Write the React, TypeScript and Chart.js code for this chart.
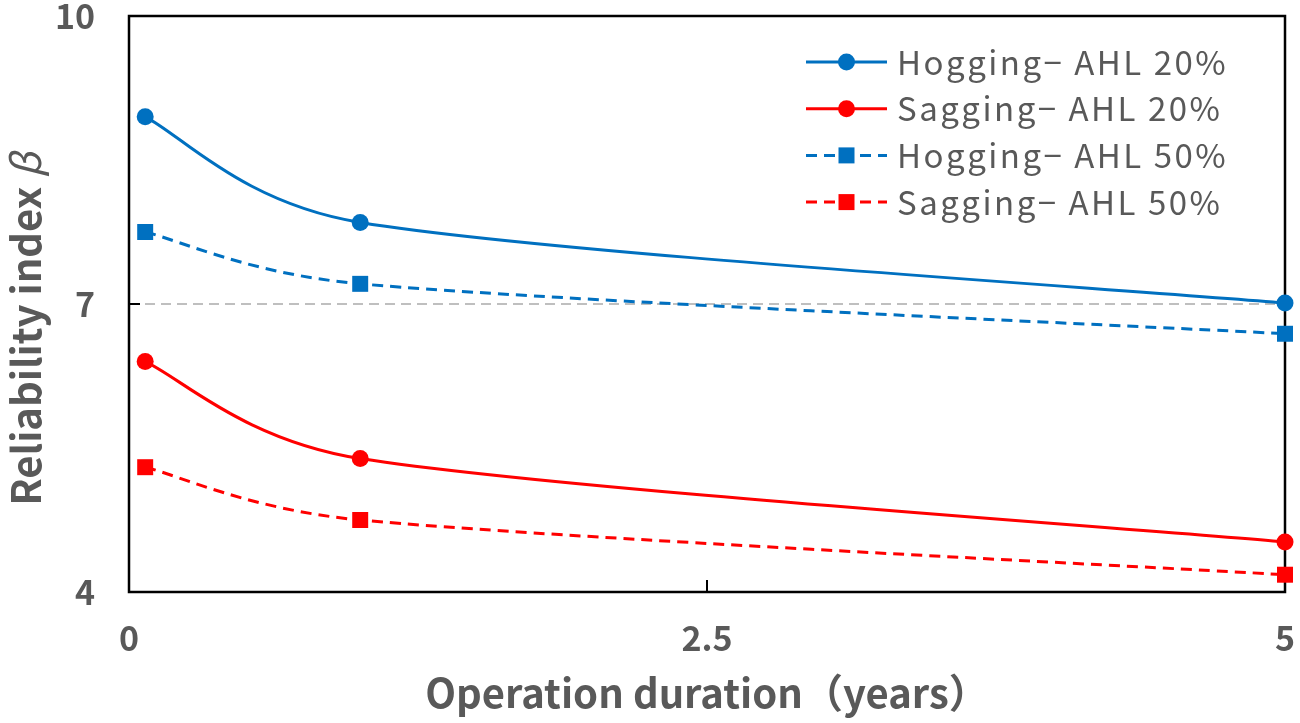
import { useEffect, useRef } from "react";
import { Chart, registerables, Plugin } from "chart.js";

Chart.register(...registerables);

// operation duration in years
const years = [0.07, 1, 5];

// reliability index beta
const hogging20 = [8.95, 7.85, 7.01];
const sagging20 = [6.4, 5.39, 4.52];
const hogging50 = [7.75, 7.21, 6.69];
const sagging50 = [5.3, 4.75, 4.18];

const seriesLabels = [
  "Hogging\u2212 AHL 20%",
  "Sagging\u2212 AHL 20%",
  "Hogging\u2212 AHL 50%",
  "Sagging\u2212 AHL 50%",
];

const xTitle = "Operation duration\uFF08years\uFF09";
const yTitle = "Reliability index ";
const yTitleSymbol = "\u03B2";

const BLUE = "#0070C0";
const RED = "#FF0000";
const GREY = "#595959";
const FONT = "'Noto Sans CJK JP', 'Noto Sans', sans-serif";

// Excel-like smoothing: control points at 1/6 of the neighbour chord,
// capped at half of the segment they belong to
const excelSmooth: Plugin<"line"> = {
  id: "excelSmooth",
  beforeDatasetDraw(_chart, args) {
    const meta: any = args.meta;
    const pts: any[] = meta.data;
    const n = pts.length;
    pts.forEach((p, i) => {
      const prev = pts[Math.max(i - 1, 0)];
      const next = pts[Math.min(i + 1, n - 1)];
      const dx = (next.x - prev.x) / 6;
      const dy = (next.y - prev.y) / 6;
      const len = Math.hypot(dx, dy) || 1;
      const dPrev = Math.hypot(p.x - prev.x, p.y - prev.y) / 2;
      const dNext = Math.hypot(next.x - p.x, next.y - p.y) / 2;
      const kIn = Math.min(1, dPrev / len);
      const kOut = Math.min(1, dNext / len);
      p.cp1x = p.x - dx * kIn;
      p.cp1y = p.y - dy * kIn;
      p.cp2x = p.x + dx * kOut;
      p.cp2y = p.y + dy * kOut;
    });
    meta.dataset._pointsUpdated = true;
  },
};

// black frame round the plot and inward tick marks
const frame: Plugin<"line"> = {
  id: "frame",
  beforeDatasetsDraw(chart) {
    const { ctx, chartArea: a, scales } = chart;
    ctx.save();
    ctx.strokeStyle = "#000";
    ctx.lineWidth = 2.5;
    ctx.strokeRect(a.left, a.top, a.right - a.left, a.bottom - a.top);
    ctx.lineWidth = 2;
    ctx.beginPath();
    scales.x.ticks.forEach((t) => {
      const px = scales.x.getPixelForValue(t.value);
      ctx.moveTo(px, a.bottom);
      ctx.lineTo(px, a.bottom - 12);
    });
    scales.y.ticks.forEach((t) => {
      const py = scales.y.getPixelForValue(t.value);
      ctx.moveTo(a.left, py);
      ctx.lineTo(a.left + 11, py);
    });
    ctx.stroke();
    ctx.restore();
  },
};

// y title with italic beta, and the legend inside the plot
const extras: Plugin<"line"> = {
  id: "extras",
  afterDraw(chart) {
    const { ctx, chartArea: a } = chart;
    ctx.save();

    // y axis title
    ctx.translate(a.left - 103, (a.top + a.bottom) / 2 + 25);
    ctx.rotate(-Math.PI / 2);
    ctx.fillStyle = GREY;
    ctx.textBaseline = "middle";
    ctx.textAlign = "left";
    ctx.font = `bold 40px ${FONT}`;
    const w1 = ctx.measureText(yTitle).width;
    ctx.font = `italic 40px ${FONT}`;
    const w2 = ctx.measureText(yTitleSymbol).width;
    const x0 = -(w1 + w2) / 2;
    ctx.font = `bold 40px ${FONT}`;
    ctx.fillText(yTitle, x0, 0);
    ctx.font = `italic 40px ${FONT}`;
    ctx.fillText(yTitleSymbol, x0 + w1, 0);
    ctx.restore();

    // legend
    ctx.save();
    const lineStart = a.right - 479;
    const lineEnd = a.right - 398;
    const mid = (lineStart + lineEnd) / 2;
    const textX = a.right - 388;
    chart.data.datasets.forEach((ds: any, i) => {
      const y = a.top + 46 + i * 46.7;
      ctx.strokeStyle = ds.borderColor;
      ctx.fillStyle = ds.borderColor;
      ctx.lineWidth = ds.borderWidth;
      ctx.setLineDash(ds.borderDash || []);
      ctx.beginPath();
      ctx.moveTo(lineStart, y);
      ctx.lineTo(lineEnd, y);
      ctx.stroke();
      ctx.setLineDash([]);
      if (ds.pointStyle === "rect") {
        ctx.fillRect(mid - 8, y - 8, 16, 16);
      } else {
        ctx.beginPath();
        ctx.arc(mid, y, 8.5, 0, Math.PI * 2);
        ctx.fill();
      }
      ctx.fillStyle = GREY;
      ctx.font = `33px ${FONT}`;
      (ctx as any).letterSpacing = "2.5px";
      ctx.textBaseline = "middle";
      ctx.textAlign = "left";
      ctx.fillText(ds.label, textX, y);
      (ctx as any).letterSpacing = "0px";
    });
    ctx.restore();
  },
};

function toPoints(values: number[]) {
  return values.map((v, i) => ({ x: years[i], y: v }));
}

function noOverhang(scale: any) {
  scale.paddingTop = 0;
  scale.paddingBottom = 0;
  scale.paddingLeft = 0;
  scale.paddingRight = 0;
}

function ReliabilityChart() {
  const canvasRef = useRef<HTMLCanvasElement>(null);

  useEffect(() => {
    if (!canvasRef.current) return;

    const series = [hogging20, sagging20, hogging50, sagging50];
    const colors = [BLUE, RED, BLUE, RED];

    const chart = new Chart(canvasRef.current, {
      type: "line",
      data: {
        datasets: series.map((values, i) => {
          const dashed = i >= 2;
          return {
            label: seriesLabels[i],
            data: toPoints(values),
            borderColor: colors[i],
            backgroundColor: colors[i],
            borderWidth: 3,
            borderDash: dashed ? [11, 7] : [],
            pointStyle: dashed ? "rect" : "circle",
            pointRadius: dashed ? 11.3 : 8.5,
            pointBorderWidth: 0,
            tension: 0.3,
            clip: false as any,
          };
        }),
      },
      options: {
        animation: false,
        responsive: true,
        maintainAspectRatio: false,
        layout: { padding: { top: 16, right: 15, left: 0, bottom: 0 } },
        plugins: {
          legend: { display: false },
          tooltip: { enabled: false },
        },
        scales: {
          x: {
            type: "linear",
            min: 0,
            max: 5,
            ticks: {
              stepSize: 2.5,
              color: GREY,
              font: { family: FONT, size: 34, weight: "bold" },
              padding: 26,
              maxRotation: 0,
              callback: (v) => String(v),
            },
            grid: { display: false, drawTicks: false },
            border: { display: false },
            title: {
              display: true,
              text: xTitle,
              color: GREY,
              font: { family: FONT, size: 40, weight: "bold" },
              padding: { top: 0, bottom: 6 },
            },
            afterFit: (scale) => {
              scale.height = 131;
              noOverhang(scale);
            },
          },
          y: {
            type: "linear",
            min: 4,
            max: 10,
            ticks: {
              stepSize: 3,
              color: GREY,
              font: { family: FONT, size: 34, weight: "bold" },
              padding: 34,
            },
            grid: {
              color: "#BFBFBF",
              lineWidth: 2,
              drawTicks: false,
            },
            border: { display: false, dash: [10, 6] },
            afterFit: (scale) => {
              scale.width = 129;
              noOverhang(scale);
            },
          },
        },
      },
      plugins: [excelSmooth, frame, extras],
    });

    return () => chart.destroy();
  }, []);

  return (
    <div style={{ position: "absolute", left: 0, top: 0, width: 1300, height: 723, background: "#fff" }}>
      <canvas ref={canvasRef}></canvas>
    </div>
  );
}

export default function App() {
  return <ReliabilityChart />;
}
